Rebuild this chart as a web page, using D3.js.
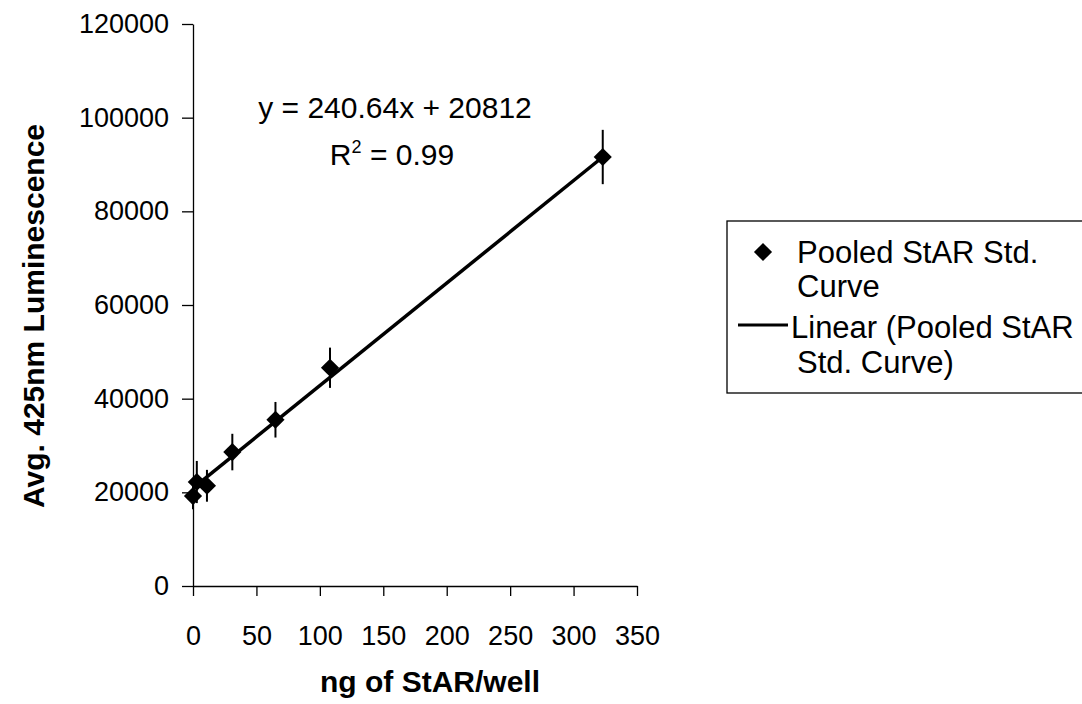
<!DOCTYPE html>
<html>
<head>
<meta charset="utf-8">
<script src="https://cdn.jsdelivr.net/npm/d3@7"></script>
<style>
  html, body { margin: 0; padding: 0; background: #fff; }
  svg { display: block; }
  text { font-family: Arial, "Liberation Sans", Helvetica, sans-serif; fill: #000; }
</style>
</head>
<body>
<svg id="chart" width="1082" height="704"></svg>
<script>
// ---- data ----
const xValues = [0, 3, 11, 31, 65, 108, 323];
const yValues = [19200, 22200, 21400, 28600, 35500, 46600, 91600];
const yErrors = [2800, 4500, 3400, 3900, 3800, 4300, 5800];
const trendX = [0, 323];
const trendY = [20900, 91600];
const xTicks = [0, 50, 100, 150, 200, 250, 300, 350];
const yTicks = [0, 20000, 40000, 60000, 80000, 100000, 120000];
const equationText = "y = 240.64x + 20812";
const r2Text = ["R", "2", " = 0.99"];
const xTitle = "ng of StAR/well";
const yTitle = "Avg. 425nm Luminescence";
const legendLabels = [["Pooled StAR Std.", "Curve"], ["Linear (Pooled StAR", "Std. Curve)"]];

const svg = d3.select("#chart");
const x = d3.scaleLinear().domain([0, 350]).range([193, 637]);
const y = d3.scaleLinear().domain([0, 120000]).range([586, 24]);

// axes
const xAxis = d3.axisBottom(x).tickValues(xTicks).tickSize(10).tickSizeOuter(0)
  .tickPadding(30).tickFormat(d3.format("d"));
const yAxis = d3.axisLeft(y).tickValues(yTicks).tickSize(11).tickSizeOuter(0)
  .tickPadding(13).tickFormat(d3.format("d"));

const gx = svg.append("g").attr("transform", `translate(0,${y(0)})`).call(xAxis);
const gy = svg.append("g").attr("transform", `translate(${x(0)},0)`).call(yAxis);
[gx, gy].forEach(g => {
  g.select(".domain").attr("stroke", "#000").attr("stroke-width", 1.3);
  g.selectAll(".tick line").attr("stroke", "#000").attr("stroke-width", 1.3);
  g.selectAll(".tick text").attr("font-size", 27).attr("font-family", "Arial, 'Liberation Sans', sans-serif").attr("fill", "#000");
});
gx.selectAll(".tick text").attr("dy", "0.71em");

// error bars
const pts = xValues.map((v, i) => ({x: v, y: yValues[i], e: yErrors[i]}));
svg.append("g").selectAll("line").data(pts).join("line")
  .attr("x1", d => x(d.x)).attr("x2", d => x(d.x))
  .attr("y1", d => y(d.y + d.e)).attr("y2", d => y(d.y - d.e))
  .attr("stroke", "#000").attr("stroke-width", 2);

// trendline
const trend = trendX.map((v, i) => [v, trendY[i]]);
svg.append("path").datum(trend)
  .attr("d", d3.line().x(d => x(d[0])).y(d => y(d[1])))
  .attr("stroke", "#000").attr("stroke-width", 3.5).attr("fill", "none");

// markers (diamonds)
const diamond = d3.symbol().type(d3.symbolSquare).size(165);
svg.append("g").selectAll("path").data(pts).join("path")
  .attr("d", diamond)
  .attr("transform", d => `translate(${x(d.x)},${y(d.y)}) rotate(45)`)
  .attr("fill", "#000");

// equation
svg.append("text").attr("x", 395).attr("y", 118).attr("text-anchor", "middle")
  .attr("font-size", 30).text(equationText);
const r2 = svg.append("text").attr("x", 392).attr("y", 165).attr("text-anchor", "middle").attr("font-size", 30);
r2.append("tspan").text(r2Text[0]);
r2.append("tspan").attr("font-size", 18).attr("dy", -12).text(r2Text[1]);
r2.append("tspan").attr("dy", 12).text(r2Text[2]);

// axis titles
svg.append("text").attr("x", 430).attr("y", 692).attr("text-anchor", "middle")
  .attr("font-size", 30).attr("font-weight", "bold").text(xTitle);
svg.append("text").attr("transform", "translate(44,316) rotate(-90)").attr("text-anchor", "middle")
  .attr("font-size", 30).attr("font-weight", "bold").text(yTitle);

// legend
const lg = svg.append("g");
lg.append("rect").attr("x", 727).attr("y", 221).attr("width", 400).attr("height", 172)
  .attr("fill", "#fff").attr("stroke", "#000").attr("stroke-width", 1.3);
lg.append("path").attr("d", diamond).attr("transform", "translate(763,252) rotate(45)").attr("fill", "#000");
lg.append("line").attr("x1", 738).attr("x2", 788).attr("y1", 325).attr("y2", 325)
  .attr("stroke", "#000").attr("stroke-width", 3);
const legLines = [
  {t: legendLabels[0][0], x: 797, y: 263},
  {t: legendLabels[0][1], x: 797, y: 297},
  {t: legendLabels[1][0], x: 791, y: 338},
  {t: legendLabels[1][1], x: 797, y: 373}
];
lg.selectAll("text.leg").data(legLines).join("text").attr("class", "leg")
  .attr("x", d => d.x).attr("y", d => d.y).attr("font-size", 31).text(d => d.t);
</script>
</body>
</html>
